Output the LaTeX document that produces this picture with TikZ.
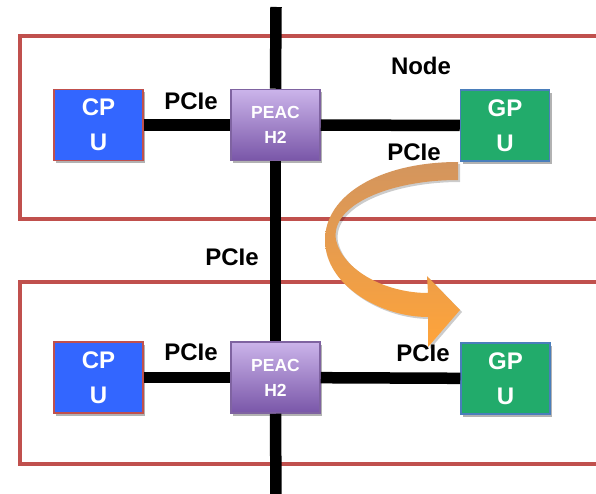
\documentclass[tikz,border=0pt]{standalone}
\usepackage{fontspec}
\setmainfont{Liberation Sans}
\usetikzlibrary{shadows}
\definecolor{boxred}{HTML}{C0504D}
\definecolor{cpublue}{HTML}{3366FF}
\definecolor{gpugreen}{HTML}{22AB6B}
\definecolor{gpuedge}{HTML}{4A7EBB}
\definecolor{petop}{HTML}{CBB4EA}
\definecolor{pebot}{HTML}{7956A8}
\definecolor{peedge}{HTML}{7F63A1}
\definecolor{arrtop}{HTML}{D3955E}
\definecolor{arrbot}{HTML}{FFA43A}
\tikzset{
  nodebox/.style={draw=boxred, line width=4.5pt},
  bus/.style={line width=11.5pt, black},
  chip/.style={minimum width=89pt, minimum height=71pt, inner sep=0pt, align=center,
    text=white, font=\bfseries\fontsize{24}{35}\selectfont,
    drop shadow={shadow xshift=2pt, shadow yshift=-3pt, opacity=0.3, fill=black}},
  cpubox/.style={chip, fill=cpublue, draw=boxred, line width=1.5pt},
  gpubox/.style={chip, fill=gpugreen, draw=gpuedge, line width=1.5pt},
  pebox/.style={chip, top color=petop, bottom color=pebot, draw=peedge, line width=1.5pt,
    font=\bfseries\fontsize{17.5}{25}\selectfont},
  lbl/.style={inner sep=0pt, font=\bfseries\fontsize{24}{28}\selectfont},
}
\begin{document}
\begin{tikzpicture}[x=1pt, y=-1pt]
\useasboundingbox (0,0) rectangle (596,494);
\fill[white] (0,0) rectangle (596,494);
% node frames
\draw[nodebox] (620,36) -- (20,36) -- (20,219) -- (620,219);
\draw[nodebox] (620,282) -- (20,282) -- (20,464) -- (620,464);
% boxes
\coordinate (bustop) at (276,7);
\coordinate (busbot) at (276,500);
\node[cpubox] (cpu1) at (98.5,125) {CP\\U};
\node[pebox]  (pe1)  at (275.5,125) {PEAC\\H2};
\node[gpubox] (gpu1) at (505,125.5) {GP\\U};
\node[cpubox] (cpu2) at (98.5,377.5) {CP\\U};
\node[pebox]  (pe2)  at (275.5,377.5) {PEAC\\H2};
\node[gpubox] (gpu2) at (505.5,378.5) {GP\\U};
% buses
\draw[bus] (bustop) -- (pe1.north);
\draw[bus] (pe1.south) -- (pe2.north);
\draw[bus] (pe2.south) -- (busbot);
\draw[bus] (cpu1) -- (pe1);
\draw[bus] (pe1) -- (gpu1);
\draw[bus] (cpu2) -- (pe2);
\draw[bus] (pe2) -- (gpu2);
% labels
\node[lbl] (l1) at (191,101) {PCIe};
\node[lbl] (l2) at (414,152) {PCIe};
\node[lbl] (l3) at (421,66) {Node};
\node[lbl] (l4) at (232,257) {PCIe};
\node[lbl] (l5) at (191,352) {PCIe};
\node[lbl] (l6) at (423,353) {PCIe};
% curved arrow
\shade[top color=arrtop, bottom color=arrbot, drop shadow={shadow xshift=2pt, shadow yshift=-2pt, opacity=0.2, fill=black}]
  (458,162) .. controls (380,162) and (325,195) .. (325,240)
  .. controls (325,285) and (380,317) .. (428,317)
  -- (428,347) -- (460,310) -- (427,276) -- (428,293)
  .. controls (385,293) and (343,270) .. (336,240)
  .. controls (330,205) and (390,180) .. (458,180) -- cycle;
\end{tikzpicture}
\end{document}
